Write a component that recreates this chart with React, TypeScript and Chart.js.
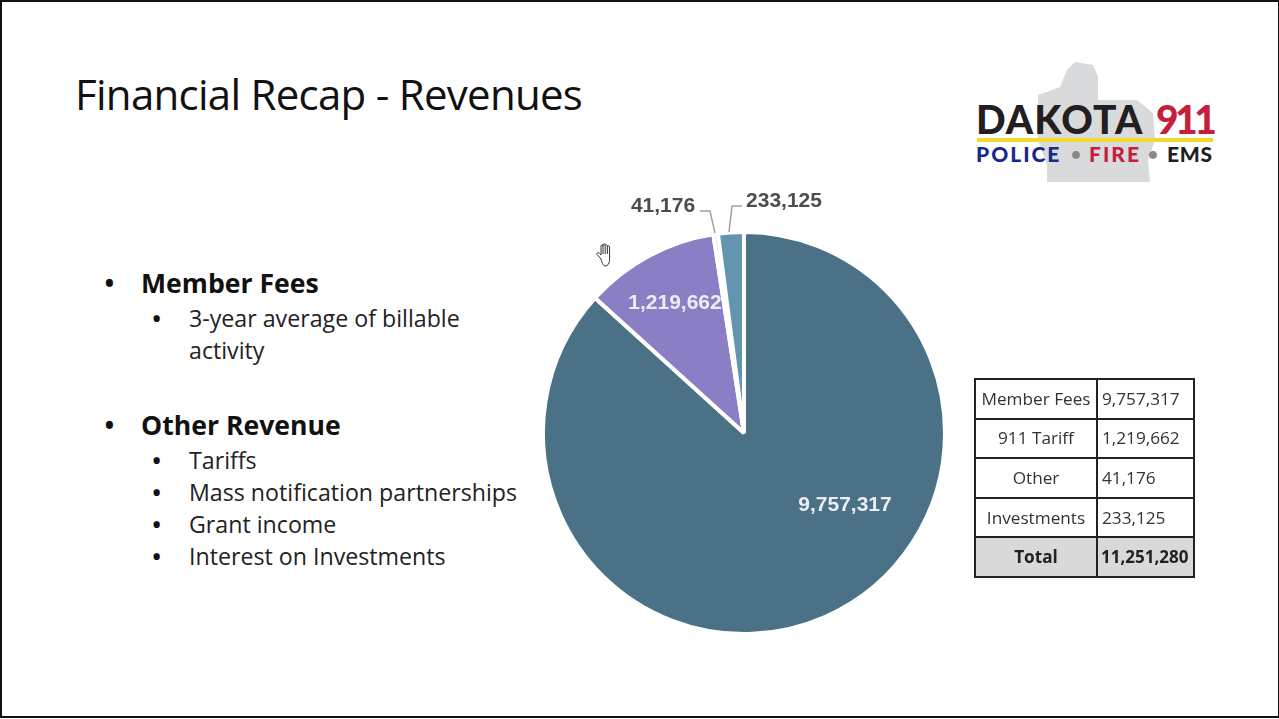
import React, { useEffect, useRef } from "react";
import { Chart, registerables } from "chart.js";

Chart.register(...registerables);

const categories = ["Member Fees", "911 Tariff", "Other", "Investments"];
const revenues = [9757317, 1219662, 41176, 233125];
const sliceColors = ["#4A7186", "#8A7FC5", "#A9C3D0", "#6395B1"];
const valueLabels = ["9,757,317", "1,219,662", "41,176", "233,125"];
const totalLabel = "11,251,280";
const mainBullets = [
  { title: "Member Fees", top: 264, subs: ["3-year average of billable", "activity"] },
  { title: "Other Revenue", top: 406, subs: ["Tariffs", "Mass notification partnerships", "Grant income", "Interest on Investments"] },
];

const UI = '"Open Sans", "Noto Sans", sans-serif';

const labelsPlugin = {
  id: "sliceLabels",
  afterDatasetsDraw(chart: any) {
    const arcs = chart.getDatasetMeta(0).data;
    const { x: cx, y: cy } = arcs[0];
    const ctx = chart.ctx;
    ctx.save();
    ctx.textAlign = "center";
    ctx.textBaseline = "middle";
    ctx.font = 'bold 21px "Liberation Sans", Arial, sans-serif';
    ctx.fillStyle = "#ececf2";
    ctx.fillText(valueLabels[0], cx + 101, cy + 72);
    ctx.fillText(valueLabels[1], cx - 69, cy - 130);
    ctx.fillStyle = "#4d4d4d";
    ctx.fillText(valueLabels[2], cx - 81, cy - 227);
    ctx.fillText(valueLabels[3], cx + 40, cy - 232);
    ctx.strokeStyle = "#a0a0a0";
    ctx.lineWidth = 1.5;
    ctx.beginPath();
    ctx.moveTo(cx - 29, cy - 200);
    ctx.lineTo(cx - 34, cy - 222);
    ctx.lineTo(cx - 44, cy - 222);
    ctx.moveTo(cx - 15, cy - 201);
    ctx.lineTo(cx - 12, cy - 227);
    ctx.lineTo(cx - 2, cy - 227);
    ctx.stroke();
    ctx.restore();
  },
};

function PieChart() {
  const ref = useRef<HTMLCanvasElement>(null);
  useEffect(() => {
    const chart = new Chart(ref.current!, {
      type: "pie",
      data: {
        labels: categories,
        datasets: [{
          data: revenues,
          backgroundColor: sliceColors,
          borderColor: "#ffffff",
          borderWidth: 4,
          radius: 201,
        }],
      },
      options: {
        responsive: false,
        animation: false,
        layout: { padding: 0 },
        plugins: { legend: { display: false }, tooltip: { enabled: false } },
      },
      plugins: [labelsPlugin],
    } as any);
    return () => chart.destroy();
  }, []);
  return (
    <canvas
      ref={ref}
      width={540}
      height={540}
      style={{ position: "absolute", left: 474, top: 163, width: 540, height: 540 }}
    />
  );
}

const tableRows = categories.map((c, i) => [c, valueLabels[i]]);

function RevenueTable() {
  const cell: React.CSSProperties = { border: "2px solid #222", padding: 0, boxSizing: "border-box", height: 39.6, fontSize: 17.2, color: "#333", lineHeight: "20px" };
  return (
    <table style={{ position: "absolute", left: 974, top: 378, width: 219, height: 198, borderCollapse: "collapse", fontFamily: UI, tableLayout: "fixed" }}>
      <colgroup><col style={{ width: 122 }} /><col style={{ width: 97 }} /></colgroup>
      <tbody>
        {tableRows.map(([a, b]) => (
          <tr key={a}>
            <td style={{ ...cell, textAlign: "center", whiteSpace: "nowrap" }}>{a}</td>
            <td style={{ ...cell, paddingLeft: 4 }}>{b}</td>
          </tr>
        ))}
        <tr style={{ background: "#d9d9d9", fontWeight: 700 }}>
          <td style={{ ...cell, textAlign: "center", color: "#222" }}>Total</td>
          <td style={{ ...cell, paddingLeft: 3, color: "#222", fontSize: 17 }}>{totalLabel}</td>
        </tr>
      </tbody>
    </table>
  );
}

function Bullets() {
  return (
    <div style={{ fontFamily: UI, color: "#111" }}>
      {mainBullets.map((b) => (
        <React.Fragment key={b.title}>
          <div style={{ position: "absolute", left: 103, top: b.top, fontSize: 34, lineHeight: "38px" }}>•</div>
          <div style={{ position: "absolute", left: 141, top: b.top, fontSize: 26.6, lineHeight: "38px", fontWeight: 700, whiteSpace: "nowrap" }}>{b.title}</div>
          {b.subs.map((s, i) => (
            <React.Fragment key={s}>
              {!(b.title === "Member Fees" && i === 1) && (
                <div style={{ position: "absolute", left: 151, top: b.top + 38 + i * 32, fontSize: 30, lineHeight: "32px" }}>•</div>
              )}
              <div style={{ position: "absolute", left: 189, top: b.top + 38 + i * 32, fontSize: 23.2, lineHeight: "32px", whiteSpace: "nowrap", color: "#222" }}>{s}</div>
            </React.Fragment>
          ))}
        </React.Fragment>
      ))}
    </div>
  );
}

function Logo() {
  const t: React.CSSProperties = { position: "absolute", fontFamily: 'Lato, "Liberation Sans", sans-serif', fontWeight: 900, whiteSpace: "nowrap" };
  return (
    <>
      <svg style={{ position: "absolute", left: 0, top: 0 }} width={1279} height={719}>
        <polygon fill="#d8dadc" points="1075,62 1093,65 1098,77 1098,100 1137,100 1153,113 1155,140 1148,160 1150,182 1047,182 1047,165 1038,140 1038,95 1060,87 1067,70" />
        <rect x={977} y={138} width={236} height={4} fill="#f2d92e" />
      </svg>
      <div style={{ ...t, left: 976, top: 97, fontSize: 39, lineHeight: "44px", color: "#231f20", letterSpacing: 1.1 }}>DAKOTA</div>
      <div style={{ ...t, left: 1156, top: 97, fontSize: 39, lineHeight: "44px", color: "#c4203c", letterSpacing: -3.5 }}>911</div>
      <div style={{ ...t, left: 976, top: 141, fontSize: 21, lineHeight: "26px", color: "#17298a", letterSpacing: 2 }}>POLICE</div>
      <div style={{ ...t, left: 1071, top: 141, fontSize: 17, lineHeight: "26px", color: "#888" }}>•</div>
      <div style={{ ...t, left: 1089, top: 141, fontSize: 21, lineHeight: "26px", color: "#c4203c", letterSpacing: 2 }}>FIRE</div>
      <div style={{ ...t, left: 1148, top: 141, fontSize: 17, lineHeight: "26px", color: "#888" }}>•</div>
      <div style={{ ...t, left: 1167, top: 141, fontSize: 21, lineHeight: "26px", color: "#231f20", letterSpacing: 0.7 }}>EMS</div>
    </>
  );
}

function HandCursor() {
  return (
    <svg style={{ position: "absolute", left: 595, top: 242 }} width={20} height={26} viewBox="0 0 20 26" fill="#fff" stroke="#333" strokeWidth={1}>
      <path d="M6 17 L2 12.5 C1 11 3 10 4.5 11.5 L6 13 L6 4 C6 2.6 8 2.6 8 4 L8 3 C8 1.4 10.2 1.4 10.2 3 L10.2 3.6 C10.2 2.2 12.4 2.2 12.4 3.8 L12.4 5 C12.4 3.6 14.6 3.6 14.6 5 L14.6 17 C14.6 21 13 24 10 24 C8 24 7 20 6 17 Z M8 4 L8 12 M10.2 3.6 L10.2 12 M12.4 5 L12.4 12" />
    </svg>
  );
}

export default function App() {
  useEffect(() => {
    document.body.style.margin = "0";
    document.body.style.background = "#fff";
  }, []);
  return (
    <div style={{ position: "relative", width: 1279, height: 719, overflow: "hidden", background: "#fff" }}>
      <div style={{ position: "absolute", left: 0, top: 0, width: 1279, height: 718, boxSizing: "border-box", borderTop: "2px solid #111", borderLeft: "2px solid #111", borderRight: "1px solid #111", borderBottom: "2px solid #111" }} />
      <div style={{ position: "absolute", left: 75, top: 66, fontFamily: UI, fontWeight: 400, fontSize: 42, lineHeight: "56px", color: "#111", whiteSpace: "nowrap", letterSpacing: -0.72 }}>
        Financial Recap - Revenues
      </div>
      <Bullets />
      <Logo />
      <PieChart />
      <RevenueTable />
      <HandCursor />
    </div>
  );
}
